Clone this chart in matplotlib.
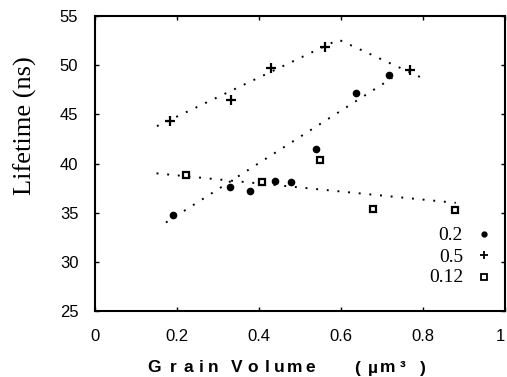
import numpy as np
import matplotlib
matplotlib.use('Agg')
import matplotlib.pyplot as plt

# pontos medidos (volume do grão, tempo de vida)
x_02 = [0.191, 0.330, 0.378, 0.439, 0.479, 0.540, 0.637, 0.717]
y_02 = [34.8, 37.6, 37.2, 38.25, 38.15, 41.5, 47.2, 49.0]

x_05 = [0.182, 0.331, 0.430, 0.561, 0.769]
y_05 = [44.3, 46.5, 49.7, 51.8, 49.5]

x_012 = [0.221, 0.408, 0.549, 0.677, 0.878]
y_012 = [38.8, 38.15, 40.4, 35.4, 35.3]

# linhas de tendência (pontilhadas)
fit_02_x = [0.173, 0.725]
fit_02_y = [34.0, 48.7]
fit_05_x = [0.151, 0.594, 0.798]
fit_05_y = [43.8, 52.6, 48.7]
fit_012_x = [0.150, 0.880]
fit_012_y = [39.0, 36.0]

legend_labels = ['0.2', '0.5', '0.12']

fig = plt.figure(figsize=(5.07, 3.77), dpi=100)
ax = fig.add_axes([95 / 507, 1 - 311 / 377, 410 / 507, 295 / 377])

dots = (0, (1, 4.5))
for fx, fy in [(fit_02_x, fit_02_y), (fit_05_x, fit_05_y), (fit_012_x, fit_012_y)]:
    ax.plot(fx, fy, color='black', lw=1.4, linestyle=dots)

ax.plot(x_02, y_02, 'o', color='black', ms=4.5, ls='none')
ax.plot(x_05, y_05, '+', color='black', ms=7, mew=1.6, ls='none')
ax.plot(x_012, y_012, 's', mfc='white', mec='black', ms=4.2, mew=1.6, ls='none')

ax.set_xlim(0, 1)
ax.set_ylim(25, 55)
ax.set_xticks([0, 0.2, 0.4, 0.6, 0.8, 1])
ax.set_xticklabels(['0', '0.2', '0.4', '0.6', '0.8', '1'])
ax.set_yticks([25, 30, 35, 40, 45, 50, 55])
ax.tick_params(direction='in', length=3, width=1, top=True, right=True,
               labelsize=12, pad=13)
ax.tick_params(axis='y', pad=12)
for lab in ax.get_xticklabels() + ax.get_yticklabels():
    lab.set_family('Liberation Sans')
ax.get_xticklabels()[-1].set_ha('right')
for s in ax.spines.values():
    s.set_linewidth(1.5)

# legenda feita à mão (texto à direita, marcador depois)
leg_y = [236, 257, 277]
for lab, py, mk in zip(legend_labels, leg_y, ['o', '+', 's']):
    yf = 1 - py / 377
    fig.text(463 / 507, yf, lab, ha='right', va='center',
             family='Liberation Serif', fontsize=14)
    if mk == 's':
        fig.lines.append(plt.Line2D([484 / 507], [yf], marker='s', mfc='white', mec='black',
                                    ms=3.8, mew=1.3, ls='none', transform=fig.transFigure))
    elif mk == '+':
        fig.lines.append(plt.Line2D([484 / 507], [yf + 0.005], marker='+', color='black',
                                    ms=6, mew=1.3, ls='none', transform=fig.transFigure))
    else:
        fig.lines.append(plt.Line2D([484 / 507], [yf + 0.005], marker='o', color='black',
                                    ms=3.5, ls='none', transform=fig.transFigure))

fig.text(25 / 507, 1 - 126 / 377, 'Lifetime (ns)', rotation=90, ha='center', va='center',
         family='Liberation Serif', fontsize=19)

# rótulo do eixo x com letras bem espaçadas
xlab_chars = list('GrainVolume') + ['(', 'µ', 'm', '³', ')']
xlab_pos = [154, 173, 188, 201, 213, 237, 253, 267, 279, 295, 310, 357, 373, 388, 403, 423]
for ch, px in zip(xlab_chars, xlab_pos):
    fig.text(px / 507, 1 - 368 / 377, ch, ha='center', va='center',
             family='Liberation Sans', fontweight='bold', fontsize=12.5)

fig.savefig('out.png', dpi=100)
